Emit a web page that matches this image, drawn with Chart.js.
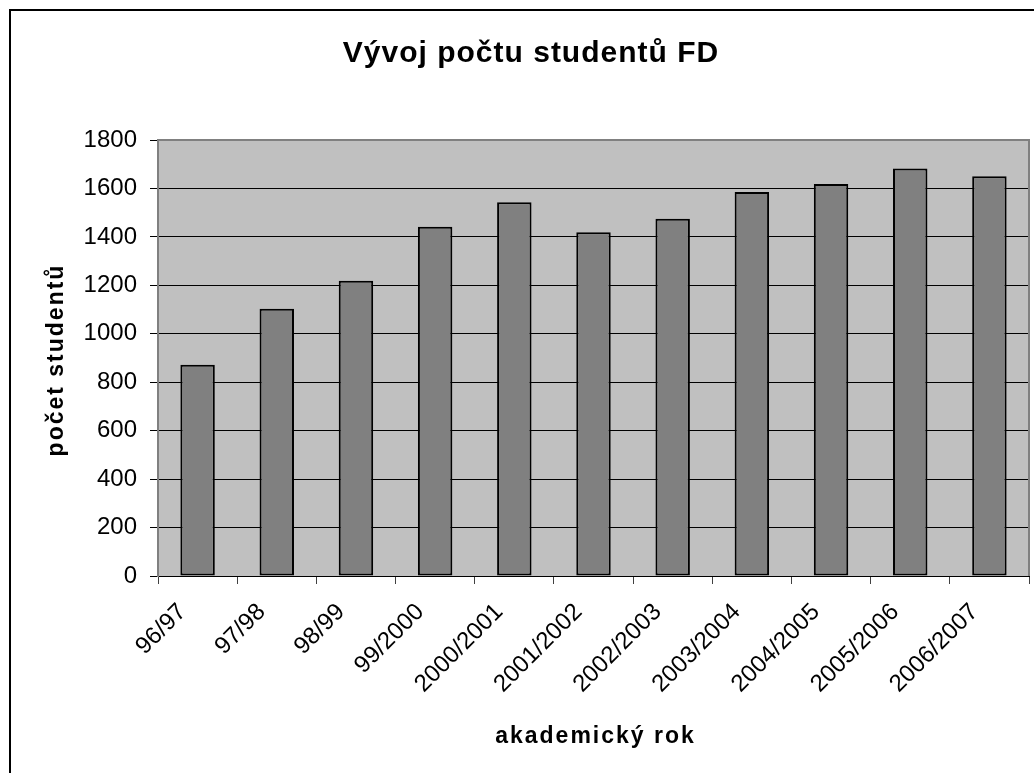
<!DOCTYPE html>
<html>
<head>
<meta charset="utf-8">
<script src="https://cdn.jsdelivr.net/npm/chart.js@4/dist/chart.umd.min.js"></script>
<style>
  html, body { margin: 0; padding: 0; background: #fff; }
  #wrap { width: 1034px; height: 773px; position: relative; }
</style>
</head>
<body>
<div id="wrap"><canvas id="c" width="1034" height="773"></canvas></div>
<script>
// Academic years and number of students per year
const years = ['96/97', '97/98', '98/99', '99/2000', '2000/2001', '2001/2002',
               '2002/2003', '2003/2004', '2004/2005', '2005/2006', '2006/2007'];
const students = [872, 1103, 1219, 1442, 1543, 1419, 1475, 1585, 1618, 1682, 1650];
const yTicks = [0, 200, 400, 600, 800, 1000, 1200, 1400, 1600, 1800];

const chartTitle = 'Vývoj počtu studentů FD';
const xTitle = 'akademický rok';
const yTitle = 'počet studentů';

const FONT = '"Liberation Sans", Arial, Helvetica, sans-serif';

// Frame, plot background and the spaced-out bold titles
const framePlugin = {
  id: 'frame',
  beforeDraw(chart) {
    const { ctx, chartArea: a } = chart;
    ctx.save();
    ctx.fillStyle = '#ffffff';
    ctx.fillRect(0, 0, chart.width, chart.height);
    ctx.strokeStyle = '#000000';
    ctx.lineWidth = 2;
    ctx.strokeRect(10, 10, chart.width + 40, chart.height + 40);
    ctx.fillStyle = '#c0c0c0';
    ctx.fillRect(a.left, a.top, a.right - a.left, a.bottom - a.top);
    ctx.restore();
  },
  afterDraw(chart) {
    const { ctx, chartArea: a } = chart;
    ctx.save();
    ctx.strokeStyle = '#808080';
    ctx.lineWidth = 2;
    ctx.beginPath();
    ctx.moveTo(a.left, a.top);
    ctx.lineTo(a.right, a.top);
    ctx.lineTo(a.right, a.bottom);
    ctx.stroke();

    ctx.fillStyle = '#000000';
    ctx.textAlign = 'center';
    ctx.textBaseline = 'alphabetic';

    ctx.letterSpacing = '1px';
    ctx.font = 'bold 30px ' + FONT;
    ctx.fillText(chartTitle, 531, 62);

    ctx.letterSpacing = '2px';
    ctx.font = 'bold 23px ' + FONT;
    ctx.fillText(xTitle, (a.left + a.right) / 2 + 2, 743);

    ctx.translate(63, 360);
    ctx.rotate(-Math.PI / 2);
    ctx.fillText(yTitle, 0, 0);
    ctx.restore();
  }
};

new Chart(document.getElementById('c'), {
  type: 'bar',
  data: {
    labels: years,
    datasets: [{
      data: students,
      backgroundColor: '#808080',
      borderColor: '#000000',
      borderWidth: 2,
      borderSkipped: false,
      categoryPercentage: 1,
      barPercentage: 0.435
    }]
  },
  options: {
    responsive: false,
    animation: false,
    devicePixelRatio: 1,
    layout: { padding: { top: 140, right: 5, left: 0, bottom: 0 } },
    plugins: {
      legend: { display: false },
      title: { display: false },
      tooltip: { enabled: false }
    },
    scales: {
      x: {
        afterFit(scale) { scale.height = 197; },
        grid: {
          display: true,
          offset: true,
          drawOnChartArea: false,
          drawTicks: true,
          tickLength: 8,
          color: '#404040',
          lineWidth: 1
        },
        border: { display: true, color: '#000000', width: 1 },
        ticks: {
          color: '#000000',
          font: { family: FONT, size: 24 },
          minRotation: 45,
          maxRotation: 45,
          autoSkip: false,
          padding: 14,
          labelOffset: -15
        }
      },
      y: {
        min: 0,
        max: 1800,
        afterFit(scale) { scale.width = 158; },
        afterBuildTicks(scale) { scale.ticks = yTicks.map(v => ({ value: v })); },
        grid: {
          color: '#000000',
          lineWidth: 1,
          drawTicks: true,
          tickLength: 8
        },
        border: { display: true, color: '#808080', width: 2 },
        ticks: {
          color: '#000000',
          font: { family: FONT, size: 24 },
          padding: 13,
          callback: v => String(v)
        }
      }
    }
  },
  plugins: [framePlugin]
});
</script>
</body>
</html>
